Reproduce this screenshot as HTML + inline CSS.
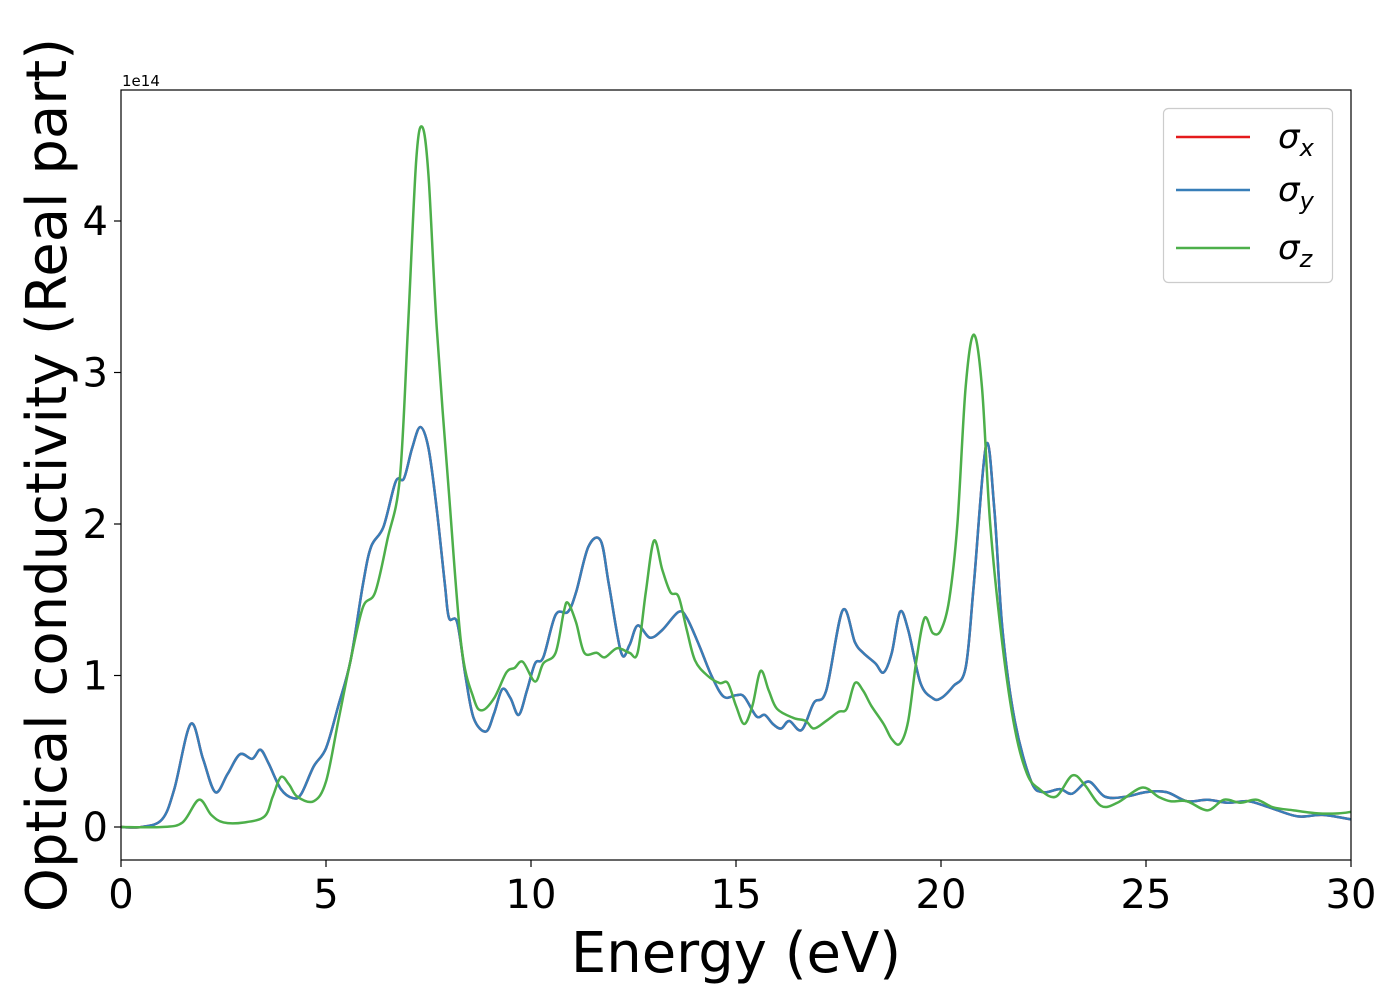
<!DOCTYPE html>
<html><head><meta charset="utf-8"><style>
body{margin:0;background:#fff}
svg text{font-family:"DejaVu Sans","Liberation Sans",sans-serif;fill:#000}
</style></head><body>
<svg id="chart" width="1400" height="1000" xmlns="http://www.w3.org/2000/svg">
<g id="plot"></g>
<rect x="121" y="90" width="1230" height="770" fill="none" stroke="#000" stroke-width="1.2"/>
<text x="122" y="86" font-size="15">1e14</text>
<text x="736" y="972" font-size="56" text-anchor="middle">Energy (eV)</text>
<text transform="translate(66,475) rotate(-90)" font-size="56" text-anchor="middle">Optical conductivity (Real part)</text>
<g>
<rect x="1163.5" y="108.5" width="169" height="174" rx="5" fill="#fff" stroke="#ccc" stroke-width="1.2"/>
<line x1="1176" y1="137" x2="1250" y2="137" stroke="#e41a1c" stroke-width="2.5"/>
<line x1="1176" y1="190" x2="1250" y2="190" stroke="#377eb8" stroke-width="2.5"/>
<line x1="1176" y1="248" x2="1250" y2="248" stroke="#4daf4a" stroke-width="2.5"/>
<text x="1278" y="148" font-size="34" font-style="italic">σ<tspan font-size="24" dy="8">x</tspan></text>
<text x="1278" y="201" font-size="34" font-style="italic">σ<tspan font-size="24" dy="8">y</tspan></text>
<text x="1278" y="259" font-size="34" font-style="italic">σ<tspan font-size="24" dy="8">z</tspan></text>
</g>
</svg>
<script>
const xTicks=[0,5,10,15,20,25,30];
const yTicks=[0,1,2,3,4];
const energyXY=[0,0.5,1.0,1.3,1.7,2.0,2.3,2.6,2.9,3.2,3.4,3.6,3.9,4.2,4.4,4.7,5.0,5.3,5.6,5.9,6.1,6.4,6.7,6.9,7.1,7.3,7.5,7.7,7.9,8.0,8.2,8.4,8.6,8.9,9.1,9.3,9.5,9.7,9.9,10.1,10.3,10.6,10.9,11.1,11.4,11.7,11.9,12.2,12.4,12.6,12.9,13.2,13.6,13.8,14.1,14.4,14.7,15.0,15.2,15.5,15.7,15.9,16.1,16.3,16.6,16.9,17.2,17.6,17.9,18.1,18.4,18.6,18.8,19.0,19.2,19.5,19.8,20.0,20.3,20.6,20.8,21.1,21.3,21.5,21.8,22.2,22.5,22.9,23.2,23.6,24.0,24.5,25.0,25.5,26.0,26.5,27.0,27.5,28.0,28.7,29.3,30];
const sigmaXY=[0,0.0,0.05,0.25,0.68,0.45,0.23,0.35,0.48,0.45,0.51,0.42,0.25,0.19,0.22,0.4,0.52,0.8,1.1,1.6,1.85,1.98,2.28,2.3,2.5,2.64,2.5,2.1,1.6,1.38,1.35,1.0,0.72,0.63,0.75,0.91,0.85,0.74,0.9,1.08,1.12,1.4,1.42,1.55,1.85,1.89,1.6,1.15,1.2,1.33,1.25,1.3,1.42,1.38,1.2,1.0,0.86,0.87,0.86,0.73,0.74,0.68,0.65,0.7,0.64,0.82,0.9,1.43,1.22,1.15,1.08,1.02,1.15,1.42,1.3,0.95,0.85,0.85,0.93,1.05,1.6,2.52,2.1,1.3,0.7,0.3,0.23,0.25,0.22,0.3,0.2,0.2,0.23,0.23,0.17,0.18,0.16,0.17,0.13,0.07,0.08,0.05];
const energyZ=[0,1.0,1.5,1.9,2.2,2.5,3.0,3.5,3.7,3.9,4.1,4.3,4.7,5.0,5.3,5.6,5.9,6.2,6.5,6.8,7.0,7.2,7.35,7.5,7.7,8.0,8.3,8.6,8.8,9.1,9.4,9.6,9.8,10.1,10.3,10.6,10.8,10.9,11.1,11.3,11.6,11.8,12.1,12.4,12.6,12.8,13.0,13.2,13.4,13.6,13.8,14.0,14.3,14.6,14.8,15.0,15.2,15.4,15.6,15.8,16.0,16.4,16.7,16.9,17.2,17.5,17.7,17.9,18.1,18.3,18.6,18.8,19.0,19.2,19.4,19.6,19.8,20.0,20.2,20.4,20.6,20.8,21.0,21.2,21.5,21.8,22.1,22.4,22.8,23.2,23.5,23.9,24.3,24.9,25.3,25.6,26.0,26.5,26.9,27.3,27.7,28.1,28.6,29.2,29.7,30];
const sigmaZ=[0,0.0,0.03,0.18,0.08,0.03,0.03,0.07,0.2,0.33,0.28,0.2,0.17,0.3,0.7,1.1,1.45,1.55,1.9,2.3,3.3,4.4,4.62,4.3,3.3,2.2,1.2,0.85,0.77,0.85,1.02,1.05,1.09,0.96,1.08,1.15,1.42,1.48,1.35,1.15,1.15,1.12,1.18,1.15,1.15,1.55,1.89,1.7,1.55,1.52,1.3,1.1,1.0,0.95,0.95,0.8,0.68,0.8,1.03,0.9,0.78,0.72,0.7,0.65,0.7,0.76,0.78,0.95,0.9,0.8,0.68,0.58,0.55,0.7,1.1,1.38,1.28,1.3,1.5,2.0,2.9,3.25,2.9,2.0,1.2,0.65,0.35,0.25,0.2,0.34,0.28,0.14,0.16,0.26,0.2,0.17,0.17,0.11,0.18,0.16,0.18,0.13,0.11,0.09,0.09,0.1];
const X=v=>121+v/30*1230;
const Y=v=>827-v*151.5;
const NS='http://www.w3.org/2000/svg';
const svg=document.getElementById('chart');
const plot=document.getElementById('plot');
function mk(t,a,p){const e=document.createElementNS(NS,t);for(const k in a)e.setAttribute(k,a[k]);(p||svg).appendChild(e);return e;}
function path(xs,ys){let d='';const P=xs.map((x,i)=>[X(x),Y(ys[i])]);
 d='M'+P[0][0]+','+P[0][1];
 for(let i=0;i<P.length-1;i++){const p0=P[Math.max(0,i-1)],p1=P[i],p2=P[i+1],p3=P[Math.min(P.length-1,i+2)];
  const c1=[p1[0]+(p2[0]-p0[0])/6,p1[1]+(p2[1]-p0[1])/6],c2=[p2[0]-(p3[0]-p1[0])/6,p2[1]-(p3[1]-p1[1])/6];
  d+=' C'+c1+' '+c2+' '+p2;}
 return d;}
const red=mk('path',{d:path(energyXY,sigmaXY),fill:'none',stroke:'#e41a1c','stroke-width':2.5},plot);


const blue=mk('path',{d:path(energyXY,sigmaXY),fill:'none',stroke:'#377eb8','stroke-width':2.5},plot);


const green=mk('path',{d:path(energyZ,sigmaZ),fill:'none',stroke:'#4daf4a','stroke-width':2.5},plot);


xTicks.forEach(t=>{
 const l=mk('line',{x1:X(t),x2:X(t),y1:860,y2:867,stroke:'#000','stroke-width':1.2});
 
 
 const tx=mk('text',{x:X(t),y:908,'font-size':40,'text-anchor':'middle'});tx.textContent=t;
 
 
});
yTicks.forEach(t=>{
 const l=mk('line',{x1:114,x2:121,y1:Y(t),y2:Y(t),stroke:'#000','stroke-width':1.2});
 
 
 const tx=mk('text',{x:108,y:Y(t)+14,'font-size':40,'text-anchor':'end'});tx.textContent=t;
 
 
});
</script>
</body></html>
